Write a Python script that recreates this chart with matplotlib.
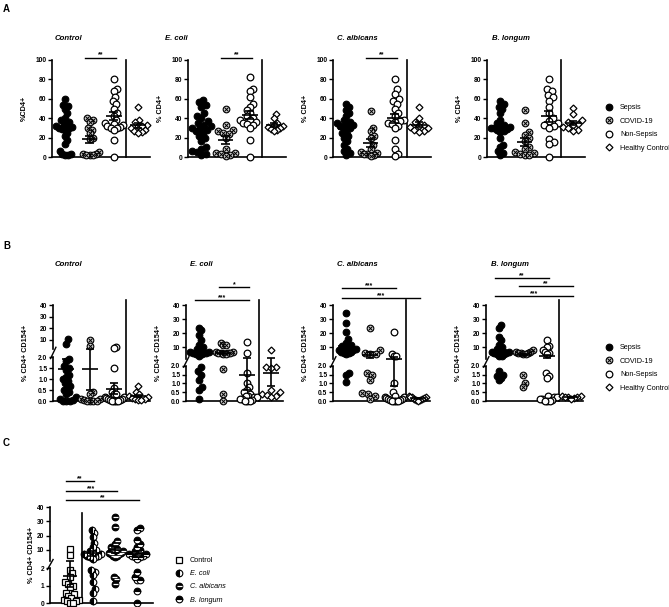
import numpy as np
import matplotlib
matplotlib.use("Agg")
import matplotlib.pyplot as plt
from matplotlib.lines import Line2D
from matplotlib.ticker import FixedLocator, FixedFormatter, NullLocator

plt.rcParams['font.family'] = ['Liberation Sans', 'DejaVu Sans']
plt.rcParams['font.weight'] = 'bold'
plt.rcParams['axes.linewidth'] = 1.0

W, H = 669, 607

groups = ["Sepsis", "COVID-19", "Non-Sepsis", "Healthy Control"]
stimuli = ["Control", "E. coli", "C. albicans", "B. longum"]
c_groups = ["Control", "E. coli", "C. albicans", "B. longum"]

# ---- panel A: %CD4+ (sepsis, covid, non-sepsis, healthy) ----
cd4_control = [
    [60, 54, 53, 50, 45, 40, 38, 36, 35, 33, 32, 31, 30, 30, 29, 28, 25, 22, 18, 13, 6, 3, 3, 2, 2],
    [40, 38, 36, 30, 28, 25, 20, 19, 5, 3, 3, 2, 2, 2],
    [80, 70, 68, 62, 58, 55, 50, 45, 42, 38, 35, 34, 33, 32, 31, 30, 30, 28, 18, 0],
    [52, 38, 36, 33, 32, 32, 30, 28, 27, 26, 25],
]
cd4_ecoli = [
    [59, 57, 54, 52, 45, 42, 40, 37, 35, 33, 32, 30, 30, 28, 27, 25, 22, 20, 17, 10, 8, 6, 5, 3, 2],
    [50, 33, 28, 27, 25, 24, 20, 8, 4, 4, 3, 2, 1],
    [82, 70, 68, 62, 55, 52, 48, 45, 42, 40, 38, 38, 36, 35, 34, 33, 30, 18, 0],
    [44, 40, 35, 33, 32, 31, 30, 29, 28, 27],
]
cd4_calb = [
    [55, 52, 48, 45, 42, 38, 36, 35, 34, 33, 32, 31, 30, 28, 25, 22, 20, 16, 12, 8, 6, 4, 2],
    [47, 30, 27, 22, 20, 12, 8, 5, 4, 3, 3, 2, 1],
    [80, 70, 65, 60, 58, 55, 50, 45, 42, 38, 37, 36, 35, 34, 32, 30, 18, 8, 3, 1],
    [52, 40, 36, 33, 32, 31, 30, 28, 27, 26],
]
cd4_blong = [
    [58, 55, 52, 50, 45, 38, 35, 33, 32, 31, 30, 30, 29, 28, 27, 26, 20, 12, 10, 6, 4, 2],
    [48, 35, 26, 23, 20, 17, 10, 8, 5, 4, 3, 2, 2],
    [80, 70, 68, 64, 62, 58, 52, 45, 40, 37, 35, 33, 32, 30, 19, 15, 13, 0],
    [51, 44, 38, 36, 34, 33, 31, 30, 28, 27],
]

# ---- panel B: % CD4+ CD154+ ----
cd154_control = [
    [10.5, 6.5, 1.9, 1.8, 1.6, 1.5, 1.4, 1.2, 1.1, 1.0, 0.9, 0.8, 0.7, 0.6, 0.5, 0.4, 0.3, 0.2, 0.1, 0.05, 0.02, 0, 0],
    [10, 5, 0.4, 0.3, 0.1, 0.1, 0.05, 0, 0, 0, 0],
    [3.5, 2.8, 1.5, 0.6, 0.4, 0.3, 0.3, 0.2, 0.2, 0.15, 0.1, 0.1, 0.05, 0.05, 0, 0, 0, 0],
    [0.7, 0.4, 0.3, 0.25, 0.2, 0.15, 0.1, 0.1, 0.05, 0.05],
]
cd154_ecoli = [
    [24, 22, 19, 15, 12, 10, 9, 8, 7, 7, 6, 6, 5, 5, 4, 1.9, 1.7, 1.5, 1.2, 0.8, 0.6, 0.1],
    [13, 12, 12, 7, 7, 6, 6, 6, 6, 5, 5, 1.8, 0.4, 0],
    [14, 6, 1.6, 1.0, 0.8, 0.6, 0.5, 0.4, 0.3, 0.3, 0.2, 0.2, 0.1, 0.1, 0.05, 0, 0, 0],
    [8, 1.9, 1.9, 1.85, 0.6, 0.5, 0.4, 0.35, 0.3, 0.2],
]
cd154_calb = [
    [34, 27, 21, 16, 13, 12, 11, 10, 10, 9, 9, 8, 8, 7, 7, 6, 6, 5, 1.6, 1.5, 1.1],
    [24, 8, 6, 5, 5, 1.6, 1.5, 1.2, 0.45, 0.4, 0.3, 0.1],
    [21, 5, 4, 4, 1.0, 0.5, 0.3, 0.2, 0.2, 0.15, 0.1, 0.1, 0.05, 0.05, 0, 0, 0, 0],
    [0.3, 0.25, 0.2, 0.2, 0.15, 0.1, 0.1, 0.05, 0.05, 0.02],
]
cd154_blong = [
    [26, 24, 17, 15, 12, 10, 9, 8, 7, 7, 6, 6, 5, 5, 4, 4, 1.7, 1.5, 1.4, 1.3, 1.2],
    [8, 7, 7, 6, 6, 6, 5, 5, 1.5, 1.0, 0.8],
    [15, 11, 10, 8, 7, 6, 5, 1.6, 1.4, 1.3, 0.3, 0.2, 0.2, 0.1, 0.1, 0.05, 0, 0, 0],
    [0.3, 0.28, 0.25, 0.2, 0.2, 0.15, 0.1],
]

# ---- panel C: sepsis patients by stimulus ----
sepsis_by_stim = [
    [11, 6.5, 1.9, 1.7, 1.5, 1.2, 1.1, 1.0, 0.9, 0.6, 0.5, 0.4, 0.3, 0.2, 0.2, 0.1, 0.1, 0, 0],
    [24, 22, 19, 15, 12, 10, 9, 8, 7, 7, 6, 6, 5, 5, 4, 1.9, 1.8, 1.6, 1.2, 0.8, 0.6, 0.1],
    [33, 26, 16, 14, 12, 11, 10, 9, 9, 8, 8, 7, 7, 6, 6, 5, 1.5, 1.4, 1.1],
    [25, 24, 17, 14, 12, 10, 9, 8, 7, 7, 6, 6, 5, 5, 4, 1.8, 1.5, 1.3, 1.3, 0.7, 0],
]

sig_a = [[(2, 3, "**")], [(2, 3, "**")], [(2, 3, "**")], []]
sig_b = [[], [(2, 3, "*"), (1, 3, "***")], [(1, 3, "***"), (1, 4, "***")],
         [(1, 3, "**"), (2, 4, "**"), (1, 4, "***")]]
sig_c = [(1, 2, "**"), (1, 3, "***"), (1, 4, "**")]

# layout (pixels)
sig_a_px = 2.5
sig_b_px = [[], [18, 5], [17, 7], [27, 19, 9]]
sig_c_px = [26, 16, 7]

FS_TICK = 4.8
FS_LAB = 5.2
FS_TITLE = 5.6
FS_LEG = 5.2

MS = 4.8
LAYERS = {
    "sepsis": [dict(marker='o', ms=MS, mfc='black', mec='black', mew=0.8)],
    "covid": [dict(marker='o', ms=MS, mfc='0.8', mec='black', mew=0.8),
              dict(marker='x', ms=2.9, mec='black', mew=0.7)],
    "non": [dict(marker='o', ms=MS, mfc='white', mec='black', mew=0.9)],
    "hc": [dict(marker='D', ms=3.5, mfc='white', mec='black', mew=0.9)],
    "ctrl": [dict(marker='s', ms=4.6, mfc='white', mec='black', mew=0.9)],
    "ecoli": [dict(marker='o', ms=MS, mfc='black', mfcalt='white', fillstyle='left', mec='black', mew=0.8)],
    "calb": [dict(marker='o', ms=MS, mfc='black', mec='black', mew=0.8),
             dict(marker='_', ms=3.6, mec='white', mew=0.9)],
    "blong": [dict(marker='o', ms=MS, mfc='black', mfcalt='white', fillstyle='top', mec='black', mew=0.8)],
}
KINDS = ["sepsis", "covid", "non", "hc"]
C_KINDS = ["ctrl", "ecoli", "calb", "blong"]


def box(left, top, width, height):
    return [left / W, 1 - (top + height) / H, width / W, height / H]


def fxy(x, y):
    return x / W, 1 - y / H


def swarm(ax, xc, vals, d, max_px):
    vals = np.asarray(vals, float)
    pts = ax.transData.transform(np.column_stack([np.full(len(vals), xc), vals]))
    order = np.argsort(pts[:, 1], kind='stable')
    placed = []
    off = np.zeros(len(vals))
    x0 = pts[0, 0]
    for i in order:
        y0 = pts[i, 1]
        cands = [0.0]
        for px, py in placed:
            dy = y0 - py
            if abs(dy) < d:
                dx = np.sqrt(d * d - dy * dy)
                cands += [px + dx, px - dx]
        cands.sort(key=abs)
        for c in cands:
            if all((c - px) ** 2 + (y0 - py) ** 2 >= d * d - 1e-6 for px, py in placed):
                break
        off[i] = c
        placed.append((c, y0))
    m = np.abs(off).max()
    if m > max_px:
        off = off * max_px / m
    back = ax.transData.inverted().transform(np.column_stack([x0 + off, pts[:, 1]]))
    return back[:, 0]


def draw_group(ax, xc, vals, kind, d=5.8, max_px=9.5):
    xs = swarm(ax, xc, vals, d, max_px)
    for kw in LAYERS[kind]:
        ax.plot(xs, vals, linestyle='none', clip_on=False, zorder=3, **kw)
    v = np.asarray(vals, float)
    m = v.mean()
    s = v.std(ddof=1) / np.sqrt(len(v))
    lo = max(m - s, 0)
    kw = dict(color='black', lw=1.2, zorder=4, clip_on=False, solid_capstyle='butt')
    ax.plot([xc - 0.33, xc + 0.33], [m, m], **kw)
    ax.plot([xc, xc], [lo, m + s], **kw)
    ax.plot([xc - 0.18, xc + 0.18], [lo, lo], **kw)
    ax.plot([xc - 0.18, xc + 0.18], [m + s, m + s], **kw)


def sig_bar(ax, x0, x1, above_px, label, h_px):
    y = 1 + above_px / h_px
    tr = ax.get_xaxis_transform()
    ax.plot([x0 - 0.18, x1 + 0.08], [y, y], color='black', lw=1.0, transform=tr, clip_on=False)
    ax.text((x0 + x1) / 2 - 0.05, y + 0.01, label, transform=tr, ha='center', va='baseline',
            fontsize=5, fontweight='bold')


def make_break(gap, slope):
    def fwd(y):
        y = np.asarray(y, float)
        return np.where(y <= 2, y, 2 + gap + (y - 2) * slope)

    def inv(t):
        t = np.asarray(t, float)
        return np.where(t <= 2, t, np.where(t < 2 + gap, 2.0, 2 + (t - 2 - gap) / slope))
    return fwd, inv


def base_style(ax):
    ax.spines['top'].set_visible(False)
    ax.spines['right'].set_visible(False)
    ax.spines['bottom'].set_linewidth(1.2)
    ax.spines['left'].set_linewidth(1.2)
    ax.set_xticks([])
    ax.tick_params(axis='y', length=3, width=1.0, pad=1, labelsize=FS_TICK)
    ax.patch.set_alpha(0)


def setup_broken(ax, gap, slope, bticks, blabels):
    fwd, inv = make_break(gap, slope)
    ax.set_yscale('function', functions=(fwd, inv))
    ax.set_ylim(0, 40)
    tticks = [10, 20, 30, 40]
    ax.yaxis.set_major_locator(FixedLocator(list(bticks) + tticks))
    ax.yaxis.set_major_formatter(FixedFormatter(list(blabels) + [str(t) for t in tticks]))
    ax.yaxis.set_minor_locator(NullLocator())
    ax.spines['left'].set_visible(False)
    t_top = float(fwd(40))
    lo, hi = 2 / t_top, (2 + gap) / t_top
    kw = dict(color='black', lw=1.2, transform=ax.transAxes, clip_on=False)
    ax.plot([0, 0], [0, lo], **kw)
    ax.plot([0, 0], [hi, 1], **kw)
    ax.plot([-0.025, 0.03], [lo - 0.015, hi + 0.02], color='black', lw=1.0,
            transform=ax.transAxes, clip_on=False)


def legend_handles(kinds):
    hs = []
    for k in kinds:
        layers = [Line2D([], [], linestyle='none', **kw) for kw in LAYERS[k]]
        hs.append(tuple(layers) if len(layers) > 1 else layers[0])
    return hs


def add_legend(ax, kinds, labels, left, top, spacing):
    return ax.legend(legend_handles(kinds), labels, loc='upper left',
                     bbox_to_anchor=fxy(left, top), bbox_transform=fig.transFigure,
                     frameon=False, prop={'size': FS_LEG, 'weight': 'normal'},
                     handlelength=1.2, handletextpad=0.92, borderpad=0,
                     borderaxespad=0, labelspacing=spacing)


fig = plt.figure(figsize=(W / 100, H / 100), dpi=100)

# panel letters
fig.text(*fxy(3, 9), "A", fontsize=7, fontweight='bold', va='center')
fig.text(*fxy(3, 246), "B", fontsize=7, fontweight='bold', va='center')
fig.text(*fxy(3, 443), "C", fontsize=7, fontweight='bold', va='center')

# ---- A ----
a_data = [cd4_control, cd4_ecoli, cd4_calb, cd4_blong]
a_left = [52, 188, 333, 487]
a_title_x = [55, 165, 337, 492]
for i, data in enumerate(a_data):
    ax = fig.add_axes(box(a_left[i], 60, 98, 97))
    base_style(ax)
    ax.set_xlim(0.45, 4.5)
    ax.set_ylim(0, 100)
    ax.set_yticks([0, 20, 40, 60, 80, 100])
    ax.set_ylabel("%CD4+" if i == 0 else "% CD4+", fontsize=FS_LAB, fontweight='bold')
    ax.yaxis.set_label_coords(-0.245, 0.5)
    ax.plot([3.5, 3.5], [0, 1], color='black', lw=1.2, transform=ax.get_xaxis_transform(), clip_on=False)
    for g, vals in enumerate(data):
        draw_group(ax, g + 1, vals, KINDS[g])
    for x0, x1, lab in sig_a[i]:
        sig_bar(ax, x0, x1, sig_a_px, lab, 97)
    fig.text(*fxy(a_title_x[i], 38), stimuli[i], fontsize=FS_TITLE, fontweight='bold',
             fontstyle='italic', va='center')
    if i == 3:
        add_legend(ax, KINDS, groups, 604.7, 104.3, 0.89)

# ---- B ----
b_data = [cd154_control, cd154_ecoli, cd154_calb, cd154_blong]
b_left = [53, 186, 333, 486]
b_title_x = [55, 190, 337, 491]
b_break = [(0.36, 0.053), (0.4, 0.08), (0.4, 0.08), (0.4, 0.08)]
for i, data in enumerate(b_data):
    ax = fig.add_axes(box(b_left[i], 305, 97, 96))
    base_style(ax)
    ax.set_xlim(0.45, 4.5)
    setup_broken(ax, b_break[i][0], b_break[i][1], [0, 0.5, 1.0, 1.5, 2.0],
                 ["0.0", "0.5", "1.0", "1.5", "2.0"])
    ax.set_ylabel("% CD4+ CD154+", fontsize=FS_LAB, fontweight='bold')
    ax.yaxis.set_label_coords(-0.25, 0.5)
    ax.plot([3.5, 3.5], [0, 1.05], color='black', lw=1.2, transform=ax.get_xaxis_transform(), clip_on=False)
    for g, vals in enumerate(data):
        draw_group(ax, g + 1, vals, KINDS[g])
    for (x0, x1, lab), px in zip(sig_b[i], sig_b_px[i]):
        sig_bar(ax, x0, x1, px, lab, 96)
    fig.text(*fxy(b_title_x[i], 264), stimuli[i], fontsize=FS_TITLE, fontweight='bold',
             fontstyle='italic', va='center')
    if i == 3:
        add_legend(ax, KINDS, groups, 604.7, 344.3, 0.89)

# ---- C ----
ax = fig.add_axes(box(50, 507, 103, 96))
base_style(ax)
ax.set_xlim(0.11, 4.69)
setup_broken(ax, 0.38, 0.082, [0, 1, 2], ["0", "1", "2"])
ax.set_ylabel("% CD4+ CD154+", fontsize=FS_LAB, fontweight='bold')
ax.yaxis.set_label_coords(-0.15, 0.5)
ax.plot([1.55, 1.55], [0, 0.94], color='black', lw=1.2, transform=ax.get_xaxis_transform(), clip_on=False)
for g, vals in enumerate(sepsis_by_stim):
    draw_group(ax, g + 1, vals, C_KINDS[g], max_px=8.5)
for (x0, x1, lab), px in zip(sig_c, sig_c_px):
    sig_bar(ax, x0, x1, px, lab, 96)
leg = add_legend(ax, C_KINDS, c_groups, 174.7, 557.3, 0.83)
for t in leg.get_texts()[1:]:
    t.set_fontstyle('italic')

fig.savefig("out.png", dpi=100, facecolor='white')
